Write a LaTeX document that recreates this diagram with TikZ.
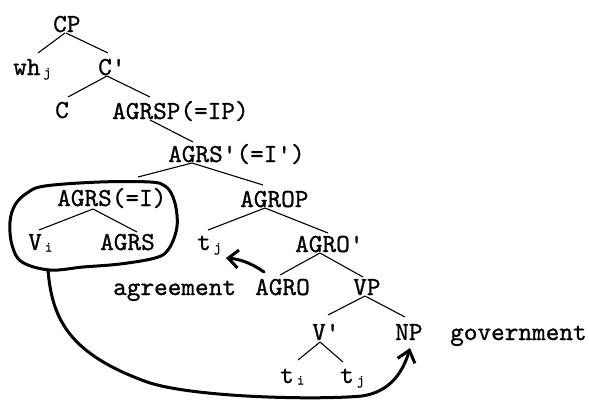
\documentclass[tikz,border=0pt]{standalone}
\usepackage{fontspec}
\usetikzlibrary{calc,arrows.meta}
% typewriter face, slightly emboldened
\newfontfamily\treefont{lmmono10-regular.otf}[FakeBold=0.9]
% small index letter set in its own character cell
\newcommand{\sbs}[1]{\makebox[0.525em]{\raisebox{-1.5pt}{\fontsize{14}{14}\selectfont #1}}}
\begin{document}
\begin{tikzpicture}[x=1pt,y=-1pt,
  lbl/.style={anchor=base west,inner sep=0pt,font=\treefont\fontsize{26}{30}\selectfont},
  branch/.style={line width=1.1pt},
  hand/.style={line width=3pt,line cap=round,line join=round}]
\useasboundingbox (0,0) rectangle (589,399);

% labels of the tree
\node[lbl] (cp) at (53,32) {CP};
\node[lbl] (wh) at (13,75) {wh\sbs{j}};
\node[lbl] (cbar) at (98,75) {C'};
\node[lbl] (c) at (55,118) {C};
\node[lbl] (agrsp) at (112,119) {AGRSP(=IP)};
\node[lbl] (agrsbar) at (168,162) {AGRS'(=I')};
\node[lbl] (agrsi) at (57,206) {AGRS(=I)};
\node[lbl] (vi) at (28,250) {V\sbs{i}};
\node[lbl] (agrs) at (100,250) {AGRS};
\node[lbl] (agrop) at (240,207) {AGROP};
\node[lbl] (tj1) at (197,250) {t\sbs{j}};
\node[lbl] (agrobar) at (295,252) {AGRO'};
\node[lbl] (agreement) at (113,295) {agreement};
\node[lbl] (agro) at (255,295) {AGRO};
\node[lbl] (vp) at (353,295) {VP};
\node[lbl] (vbar) at (312,340) {V'};
\node[lbl] (np) at (395,340) {NP};
\node[lbl] (government) at (450,340) {government};
\node[lbl] (ti) at (280,383) {t\sbs{i}};
\node[lbl] (tj2) at (340,383) {t\sbs{j}};

% branches
\draw[branch] ($(cp.base west)+(12,1)$) -- ($(wh.base west)+(25,-22)$);
\draw[branch] ($(cp.base west)+(13,1)$) -- ($(cbar.base west)+(10,-22)$);
\draw[branch] ($(cbar.base west)+(9,1)$) -- ($(c.base west)+(13,-21)$);
\draw[branch] ($(cbar.base west)+(9,1)$) -- ($(agrsp.base west)+(38,-22)$);
\draw[branch] ($(agrsp.base west)+(38,1)$) -- ($(agrsbar.base west)+(25,-20)$);
\draw[branch] ($(agrsbar.base west)+(24,1)$) -- ($(agrsi.base west)+(81,-29)$);
\draw[branch] ($(agrsbar.base west)+(24,1)$) -- ($(agrop.base west)+(23,-22)$);
\draw[branch] ($(agrsi.base west)+(36,3)$) -- ($(vi.base west)+(11,-20)$);
\draw[branch] ($(agrsi.base west)+(36,3)$) -- ($(agrs.base west)+(37,-18)$);
\draw[branch] ($(agrop.base west)+(25,1)$) -- ($(tj1.base west)+(11,-20)$);
\draw[branch] ($(agrop.base west)+(25,1)$) -- ($(agrobar.base west)+(33,-19)$);
\draw[branch] ($(agrobar.base west)+(25,1)$) -- ($(agro.base west)+(25,-20)$);
\draw[branch] ($(agrobar.base west)+(25,1)$) -- ($(vp.base west)+(10,-18)$);
\draw[branch] ($(vp.base west)+(12,1)$) -- ($(vbar.base west)+(16,-25)$);
\draw[branch] ($(vp.base west)+(12,1)$) -- ($(np.base west)+(10,-23)$);
\draw[branch] ($(vbar.base west)+(8,2)$) -- ($(ti.base west)+(18,-23)$);
\draw[branch] ($(vbar.base west)+(8,2)$) -- ($(tj2.base west)+(3,-21)$);

% loop drawn by hand round the verb and AGRS
\draw[hand] plot[smooth cycle,tension=0.6] coordinates {
  (27,193) (45,186) (100,182) (150,182) (165,186) (173,197) (177,215)
  (176,232) (168,250) (155,258) (120,264) (83,267) (50,270) (22,262)
  (12,245) (10,222) (15,205)};
\coordinate (loopbot) at (48,270);

% government arrow from the loop to NP
\draw[hand,-{Straight Barb[length=11pt,width=18pt,line width=3pt]}]
  (loopbot) .. controls (52,320) and (70,355) .. (150,383)
  .. controls (200,398) and (320,400) .. (362,396)
  .. controls (390,392) and (403,372) .. ($(np.base west)+(15,8)$);

% agreement arrow from AGRO to the trace
\draw[hand,-{Straight Barb[length=10pt,width=18pt,line width=3pt]}]
  ($(agro.base west)+(9,-23)$) .. controls (250,262) and (238,259) .. ($(tj1.base west)+(29,8)$);
\end{tikzpicture}
\end{document}
